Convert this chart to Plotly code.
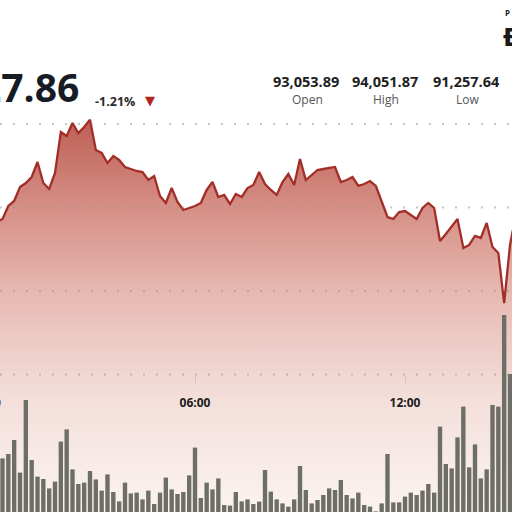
import plotly.graph_objects as go
import pandas as pd

# ---------------- data (10-minute slots, starting 00:20) ----------------
DAY = "2025-01-15"
FIRST_SLOT = "00:20"
PRICE = [92826, 92862, 93018, 93078, 93245, 93293, 93365, 93545, 93293, 93222,
         93413, 93904, 93856, 94012, 93892, 93964, 94052, 93689, 93653, 93533,
         93617, 93569, 93485, 93461, 93437, 93425, 93329, 93377, 93138, 93054,
         93233, 93066, 92970, 92994, 93018, 93054, 93210, 93305, 93126, 93150,
         93042, 93162, 93126, 93233, 93270, 93425, 93281, 93210, 93150, 93305,
         93401, 93270, 93581, 93329, 93389, 93449, 93461, 93473, 93485, 93305,
         93329, 93365, 93258, 93281, 93317, 93258, 93066, 92886, 92862, 92946,
         92958, 92910, 92862, 92994, 93054, 92994, 92599, 92683, 92778, 92862,
         92515, 92551, 92659, 92635, 92814, 92527, 92455, 91856, 92551, 92910]
VOLUME = [402, 268, 290, 360, 197, 560, 260, 177, 165, 118,
          152, 352, 413, 213, 140, 147, 205, 163, 107, 188,
          100, 53, 147, 93, 97, 63, 107, 40, 97, 172,
          113, 90, 100, 183, 322, 70, 147, 113, 168, 35,
          32, 100, 53, 63, 40, 52, 210, 102, 63, 43,
          27, 63, 230, 110, 43, 60, 85, 118, 110, 160,
          85, 68, 97, 35, 27, 3, 43, 290, 48, 48,
          77, 97, 85, 107, 140, 97, 427, 240, 218, 373,
          527, 223, 338, 168, 213, 535, 527, 985, 690, 577]
GRID_PRICES = [94000, 93000, 92000, 91000]
LAST_PRICE = "91,927.86"
CHANGE = "-1.21%"
STATS_VALUES = ["93,053.89", "94,051.87", "91,257.64"]
STATS_LABELS = ["Open", "High", "Low"]

# ---------------- layout constants ----------------
W = H = 512
Y_RANGE = [89353, 95485]
VOL_RANGE = [0, 2560]
X_RANGE = [f"{DAY} 00:25:43", f"{DAY} 15:03:26"]
FONT = "Open Sans"

times = pd.date_range(f"{DAY} {FIRST_SLOT}", periods=len(PRICE), freq="10min")


def px(x):
    return x / W


def py(y):
    return 1 - y / H


fig = go.Figure()
fig.add_trace(go.Scatter(
    x=times, y=PRICE, mode="lines",
    line=dict(color="#a32e28", width=2.3),
    fill="tozeroy",
    fillgradient=dict(
        type="vertical", start=Y_RANGE[0], stop=max(PRICE),
        colorscale=[[0.0, "rgb(251,243,241)"], [0.285, "rgb(244,223,219)"],
                    [0.54, "rgb(232,188,181)"], [0.79, "rgb(212,140,131)"],
                    [1.0, "rgb(190,95,85)"]]),
    hoverinfo="skip", yaxis="y"))
fig.add_trace(go.Bar(
    x=times, y=VOLUME, marker=dict(color="#6e6e68", line=dict(width=0)),
    hoverinfo="skip", yaxis="y2"))

shapes = [dict(type="line", xref="paper", x0=0, x1=1, yref="y", y0=p, y1=p,
               layer="above",
               line=dict(color="rgba(150,150,150,0.55)", width=2, dash="2px,11px"))
          for p in GRID_PRICES]

ann = []
ann.append(dict(text=f"<b>{LAST_PRICE}</b>", x=px(81), y=py(86), xanchor="right",
                yanchor="middle", font=dict(family=FONT, size=39, color="#161b26")))
ann.append(dict(text=f"<b>{CHANGE}</b>", x=px(115), y=py(101), xanchor="center",
                yanchor="middle", font=dict(family=FONT, size=12.5, color="#2a2a2a")))
ann.append(dict(text="▼", x=px(150), y=py(100), xanchor="center", yanchor="middle",
                font=dict(family="DejaVu Sans", size=13, color="#b0251f")))
for cx, v, lab in zip([306, 385, 466], STATS_VALUES, STATS_LABELS):
    ann.append(dict(text=f"<b>{v}</b>", x=px(cx), y=py(81), xanchor="center",
                    yanchor="middle", font=dict(family=FONT, size=14.5, color="#1e1e1e")))
    ann.append(dict(text=lab, x=px(cx + 1), y=py(99), xanchor="center",
                    yanchor="middle", font=dict(family=FONT, size=12, color="#555555")))
ann.append(dict(text="<b>P</b>", x=px(503), y=py(12), xanchor="left", yanchor="middle",
                font=dict(family=FONT, size=8, color="#222222")))
ann.append(dict(text="<b>Ð</b>", x=px(501), y=py(38), xanchor="left", yanchor="middle",
                font=dict(family="DejaVu Sans", size=24, color="#1a1a1a")))
ann.append(dict(text="<b>00:00</b>", x=px(-15), y=py(402), xanchor="center",
                yanchor="middle", font=dict(family=FONT, size=12, color="#1c1c1c")))
for a in ann:
    a.update(xref="paper", yref="paper", showarrow=False)

fig.update_layout(
    width=W, height=H, margin=dict(l=0, r=0, t=0, b=0, pad=0),
    paper_bgcolor="white", plot_bgcolor="white", showlegend=False,
    bargap=0.25,
    xaxis=dict(type="date", range=X_RANGE, tickformat="%H:%M", dtick=21600000,
               tick0=f"{DAY} 00:00", anchor="free", position=py(374.6),
               showgrid=False, showline=False, zeroline=False,
               ticks="outside", ticklen=7, tickcolor="rgba(150,150,150,0.35)",
               tickfont=dict(family=FONT, size=12, color="#1c1c1c", weight="bold"),
               ticklabelstandoff=10),
    yaxis=dict(range=Y_RANGE, visible=False, showgrid=False, zeroline=False),
    yaxis2=dict(range=VOL_RANGE, overlaying="y", visible=False, showgrid=False,
                zeroline=False),
    shapes=shapes, annotations=ann,
)

fig.write_html("out.html", config={"displayModeBar": False, "staticPlot": True},
               post_script="document.body.style.margin='0';document.body.style.overflow='hidden';")
